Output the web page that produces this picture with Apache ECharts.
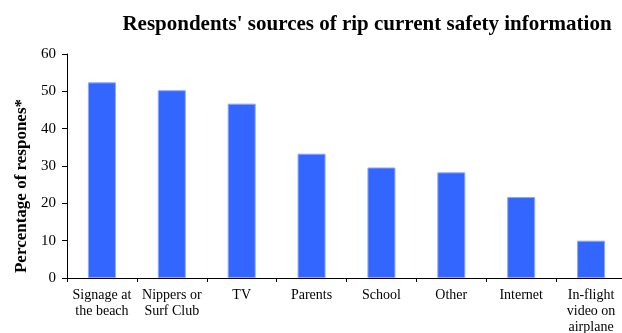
<!DOCTYPE html>
<html>
<head>
<meta charset="utf-8">
<script src="https://cdn.jsdelivr.net/npm/echarts@6/dist/echarts.min.js"></script>
<style>
  html, body { margin: 0; padding: 0; background: #fff; }
  #chart { width: 622px; height: 333px; }
</style>
</head>
<body>
<div id="chart"></div>
<script>
// Sources of rip current safety information
const categories = [
  'Signage at\nthe beach',
  'Nippers or\nSurf Club',
  'TV',
  'Parents',
  'School',
  'Other',
  'Internet',
  'In-flight\nvideo on\nairplane'
];
const percentages = [52.4, 50.3, 46.7, 33.3, 29.6, 28.3, 21.7, 10.0];
const yTicks = { min: 0, max: 60, interval: 10 };

const serif = '"Liberation Serif", "DejaVu Serif", serif';

const chart = echarts.init(document.getElementById('chart'), null, { renderer: 'canvas' });
chart.setOption({
  animation: false,
  backgroundColor: '#ffffff',
  title: {
    text: "Respondents' sources of rip current safety information",
    left: 362,
    textAlign: 'center',
    top: 9,
    textStyle: { fontFamily: serif, fontWeight: 'bold', fontSize: 21, color: '#000' }
  },
  grid: {
    left: 67, right: -4, top: 54, bottom: 55,
    containLabel: false,
    outerBoundsMode: 'none'
  },
  xAxis: {
    type: 'category',
    data: categories,
    boundaryGap: true,
    axisLine: { show: true, lineStyle: { color: '#000', width: 1 } },
    axisTick: { show: true, alignWithLabel: false, length: 4, lineStyle: { color: '#000' } },
    axisLabel: {
      interval: 0,
      margin: 9,
      fontFamily: serif,
      fontSize: 14,
      lineHeight: 16,
      color: '#000'
    },
    splitLine: { show: false }
  },
  yAxis: {
    type: 'value',
    min: yTicks.min,
    max: yTicks.max,
    interval: yTicks.interval,
    name: 'Percentage of respones*',
    nameLocation: 'middle',
    nameGap: 37,
    nameTextStyle: {
      fontFamily: serif, fontWeight: 'bold', fontSize: 17, color: '#000',
      padding: [0, 40, 0, 0]
    },
    axisLine: { show: true, lineStyle: { color: '#000', width: 1 } },
    axisTick: { show: true, length: 5, lineStyle: { color: '#000' } },
    axisLabel: { fontFamily: serif, fontSize: 15, color: '#000', margin: 11 },
    splitLine: { show: false }
  },
  series: [{
    type: 'bar',
    data: percentages,
    barWidth: 28,
    itemStyle: { color: '#3366ff', borderColor: '#8ea8ff', borderWidth: 1 }
  }]
});
</script>
</body>
</html>
